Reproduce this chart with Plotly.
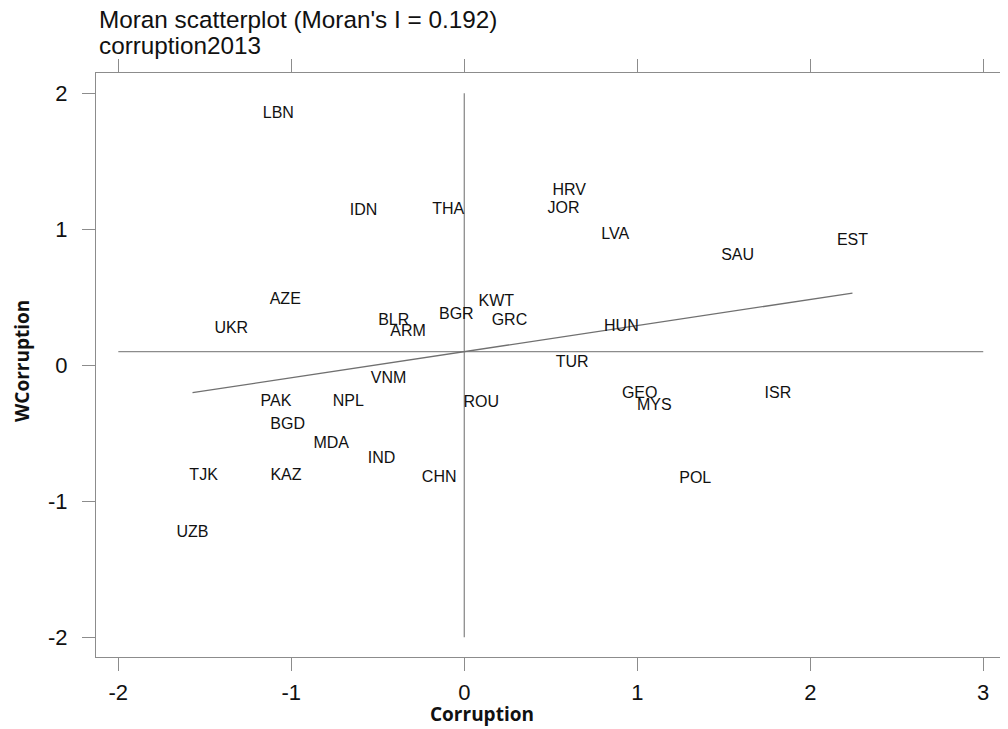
import plotly.graph_objects as go

# ---- data ----
countries = ["LBN", "IDN", "THA", "HRV", "JOR", "LVA", "SAU", "EST", "AZE", "UKR",
             "BLR", "ARM", "BGR", "KWT", "GRC", "HUN", "TUR", "VNM", "PAK", "NPL",
             "ROU", "BGD", "MDA", "IND", "TJK", "KAZ", "CHN", "UZB", "GEO", "MYS",
             "ISR", "POL"]
corruption = [-1.075, -0.582, -0.093, 0.607, 0.574, 0.873, 1.580, 2.244, -1.035, -1.347,
              -0.408, -0.325, -0.046, 0.185, 0.261, 0.908, 0.624, -0.438, -1.089, -0.670,
              0.098, -1.021, -0.769, -0.478, -1.507, -1.031, -0.145, -1.571, 1.014, 1.098,
              1.813, 1.335]
wcorruption = [1.850, 1.135, 1.140, 1.281, 1.149, 0.956, 0.803, 0.913, 0.478, 0.265,
               0.326, 0.245, 0.373, 0.465, 0.329, 0.281, 0.017, -0.098, -0.270, -0.270,
               -0.274, -0.441, -0.581, -0.689, -0.816, -0.816, -0.831, -1.233, -0.208, -0.299,
               -0.208, -0.839]
morans_i = 0.192
intercept = 0.1
mean_w = 0.1
x_ticks = [-2, -1, 0, 1, 2, 3]
x_tick_labels = ["-2", "-1", "0", "1", "2", "3"]
y_ticks = [-2, -1, 0, 1, 2]
y_tick_labels = ["-2", "-1", "0", "1", "2"]
hline_x = [-2, 3]
vline_y = [-2, 2]
title_lines = ["Moran scatterplot (Moran's I = 0.192)", "corruption2013"]
x_title = "Corruption"
y_title = "WCorruption"

# ---- figure ----
fig = go.Figure()
fig.add_trace(go.Scatter(x=hline_x, y=[mean_w, mean_w], mode="lines",
                         line=dict(color="#8c8c8c", width=1.3), hoverinfo="skip"))
fig.add_trace(go.Scatter(x=[0, 0], y=vline_y, mode="lines",
                         line=dict(color="#8c8c8c", width=1.3), hoverinfo="skip"))
xmin, xmax = min(corruption), max(corruption)
fig.add_trace(go.Scatter(x=[xmin, xmax],
                         y=[intercept + morans_i * xmin, intercept + morans_i * xmax],
                         mode="lines", line=dict(color="#707070", width=1.3), hoverinfo="skip"))
fig.add_trace(go.Scatter(x=corruption, y=wcorruption, mode="text", text=countries,
                         textposition="middle center",
                         textfont=dict(family="Liberation Sans, Arial", size=16, color="#111111")))

axis_common = dict(showgrid=False, zeroline=False, showline=True, linecolor="#8c8c8c",
                   linewidth=1.3, mirror="ticks", ticks="outside", ticklen=13,
                   tickwidth=1.3, tickcolor="#8c8c8c", automargin=False,
                   tickfont=dict(family="Liberation Sans, Arial", size=22, color="#111111"))

# page body has an 8px margin, so the figure is sized/offset to compensate
fig.update_layout(
    width=1000, height=721,
    margin=dict(l=88, r=4, t=65, b=72),
    paper_bgcolor="white", plot_bgcolor="white",
    showlegend=False,
    xaxis=dict(range=[-2.129, 3.12], tickvals=x_ticks, ticktext=x_tick_labels,
               ticklabelstandoff=2, **axis_common),
    yaxis=dict(range=[-2.145, 2.149], tickvals=y_ticks, ticktext=y_tick_labels,
               ticklabelstandoff=10, **axis_common),
    annotations=[
        dict(text=title_lines[0], xref="paper", yref="paper", x=(97 - 96) / 908,
             y=(657 - 20) / 584, xanchor="left", yanchor="middle", showarrow=False,
             font=dict(family="Liberation Sans, Arial", size=24.3, color="#111111")),
        dict(text=title_lines[1], xref="paper", yref="paper", x=(97 - 96) / 908,
             y=(657 - 45) / 584, xanchor="left", yanchor="middle", showarrow=False,
             font=dict(family="Liberation Sans, Arial", size=24.3, color="#111111")),
        dict(text="<b>" + x_title + "</b>", xref="paper", yref="paper", x=(482 - 96) / 908,
             y=(657 - 714) / 584, xanchor="center", yanchor="middle", showarrow=False,
             font=dict(family="Open Sans", size=19, color="#111111")),
        dict(text="<b>" + y_title + "</b>", xref="paper", yref="paper", x=(22 - 96) / 908,
             y=(657 - 361) / 584, xanchor="center", yanchor="middle", showarrow=False,
             textangle=-90,
             font=dict(family="Open Sans", size=19, color="#111111")),
    ],
)

fig.write_html("out.html")
